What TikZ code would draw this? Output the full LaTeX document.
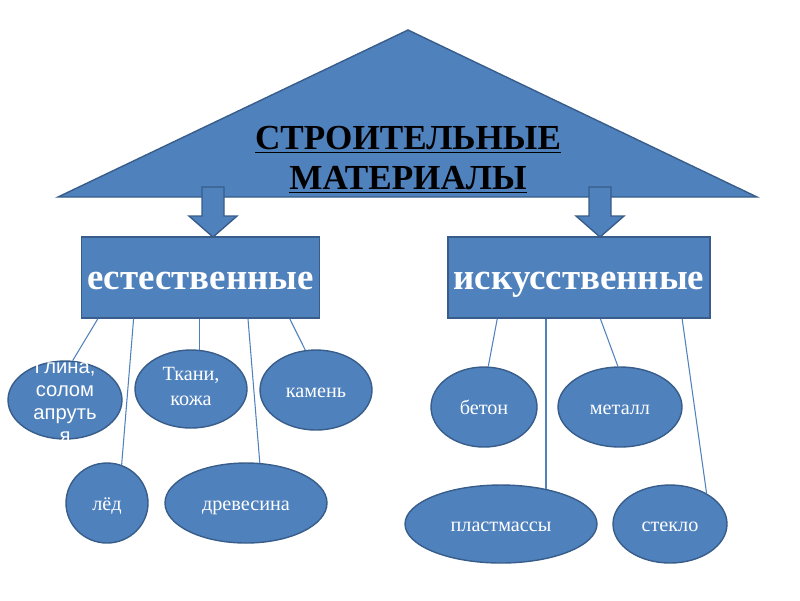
\documentclass[tikz,border=0pt]{standalone}
\usepackage{fontspec}
\setmainfont{Liberation Serif}
\newfontfamily\arialfont{Liberation Sans}
\usetikzlibrary{shapes.geometric,calc}
\definecolor{ppblue}{HTML}{4F81BD}
\definecolor{ppedge}{HTML}{385D8A}

\begin{document}
\begin{tikzpicture}[x=0.02cm,y=-0.02cm,
  leaf/.style={ellipse,draw=ppedge,line width=0.8pt,fill=ppblue,text=white,
    inner sep=0pt,align=center,font=\fontsize{11.5}{14}\selectfont},
  oneline/.style={text height=9.3pt,text depth=0.5pt},
  kind/.style={rectangle,draw=ppedge,line width=0.8pt,fill=ppblue,text=white,
    minimum height=1.62cm,text height=14.6pt,text depth=0.4pt,
    font=\fontsize{21}{24}\selectfont\bfseries},
  blockarrow/.style={draw=ppedge,fill=ppblue,line width=0.8pt},
  link/.style={draw=ppblue,line width=0.6pt}]
  \useasboundingbox (0,0) rectangle (800,600);

  % roof with the title
  \draw[blockarrow] (58,197) -- (408,30) -- (757,197) -- cycle;
  \draw (408,160) node[align=center,font=\fontsize{20}{23}\selectfont\bfseries]
    (title) {\underline{СТРОИТЕЛЬНЫЕ}\\\underline{МАТЕРИАЛЫ}};
  \foreach \xa in {213,600}
    \draw[blockarrow,shift={(\xa,187)}] (-11,0) -- (11,0) -- (11,29) -- (24,29)
      -- (0,50) -- (-24,29) -- (-11,29) -- cycle;

  \draw (200.5,277.5) node[kind,minimum width=4.7cm] (nat) {естественные};
  \draw (579,277.5) node[kind,minimum width=5.16cm] (art) {искусственные};

  % natural
  \draw (65,400) node[leaf,minimum width=2.28cm,minimum height=1.56cm] (glina) {};
  \begin{scope}
    \clip (0,361) rectangle (130,441);
    \draw (65,401) node[text=white,align=center,
      font=\arialfont\fontsize{11.5}{13}\selectfont] (glinatext)
      {Глина,\\солом\\апруть\\я};
  \end{scope}
  \draw (191,389) node[leaf,minimum width=2.24cm,minimum height=1.56cm,
    text depth=3pt] (tkani) {Ткани,\\кожа};
  \draw (316,390) node[leaf,oneline,minimum width=2.24cm,minimum height=1.6cm] (kamen) {камень};
  \draw (107,503) node[leaf,oneline,minimum width=1.64cm,minimum height=1.6cm] (led) {лёд};
  \draw (246,503) node[leaf,oneline,minimum width=3.24cm,minimum height=1.6cm] (drev) {древесина};

  \draw[link] ($(nat.south west)!.072!(nat.south east)$) -- (glina.79);
  \draw[link] ($(nat.south west)!.221!(nat.south east)$) -- (led.69);
  \draw[link] (tkani.78) -- (tkani.78 |- nat.south);
  \draw[link] ($(nat.south west)!.698!(nat.south east)$) -- (drev.71);
  \draw[link] ($(nat.south west)!.872!(nat.south east)$) -- (kamen.105);

  % artificial
  \draw (484,407) node[leaf,oneline,minimum width=2.12cm,minimum height=1.6cm] (beton) {бетон};
  \draw (620,407) node[leaf,oneline,minimum width=2.48cm,minimum height=1.6cm] (metall) {металл};
  \draw (501,524) node[leaf,oneline,minimum width=3.84cm,minimum height=1.56cm] (plast) {пластмассы};
  \draw (670,524) node[leaf,oneline,minimum width=2.28cm,minimum height=1.56cm] (steklo) {стекло};

  \draw[link] ($(art.south west)!.19!(art.south east)$) -- (beton.84);
  \draw[link] (plast.38) -- (plast.38 |- art.south);
  \draw[link] ($(art.south west)!.581!(art.south east)$) -- (metall.93);
  \draw[link] ($(art.south west)!.891!(art.south east)$) -- (steklo.40);
\end{tikzpicture}
\end{document}
